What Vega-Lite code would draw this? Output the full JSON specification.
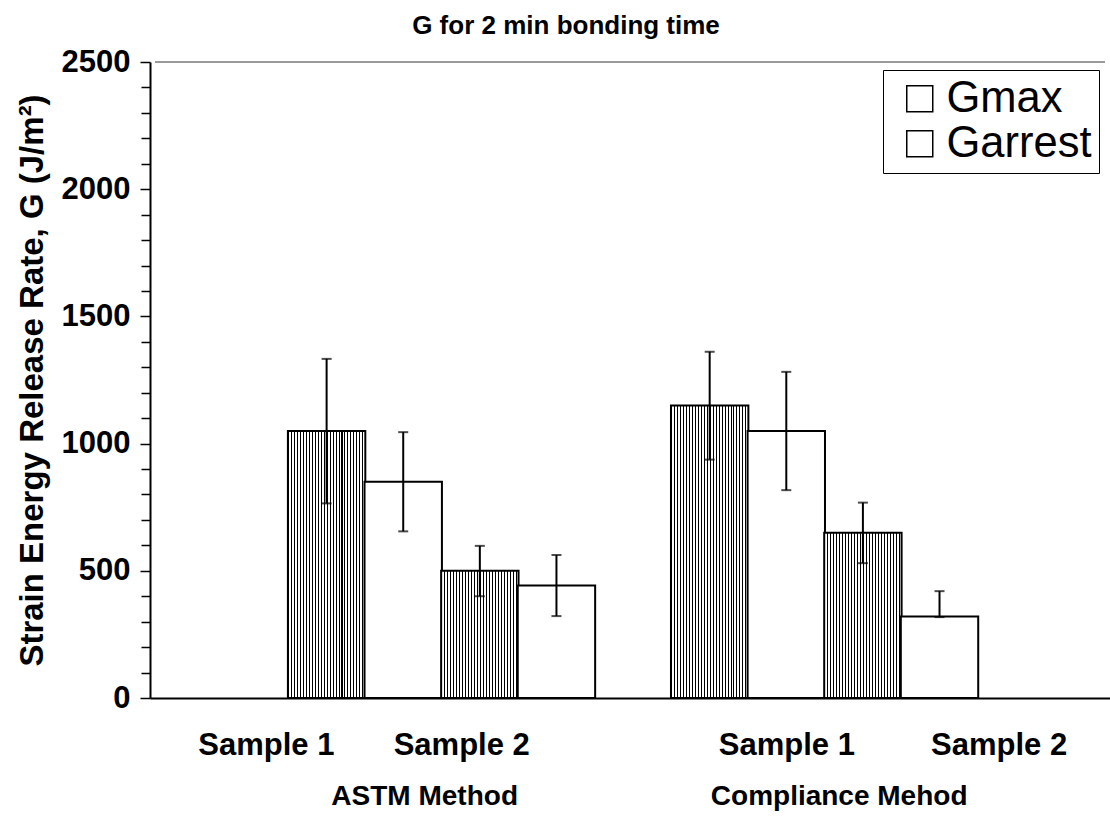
{
  "$schema": "https://vega.github.io/schema/vega-lite/v6.json",
  "width": 960,
  "height": 636,
  "autosize": {"type": "none"},
  "padding": {"left": 150, "top": 62, "right": 0, "bottom": 120},
  "background": "white",
  "title": {
    "text": "G for 2 min bonding time",
    "font": "Liberation Sans",
    "fontSize": 26,
    "fontWeight": "bold",
    "color": "black",
    "anchor": "middle",
    "dx": -64,
    "offset": 7
  },
  "config": {
    "view": {"stroke": null},
    "font": "Liberation Sans",
    "axis": {"grid": false}
  },
  "datasets": {
    "bars": [
      {"group": "ASTM Method", "sample": "Sample 1", "series": "Gmax", "value": 1050, "lo": 765, "hi": 1333, "pos": 0.5},
      {"group": "ASTM Method", "sample": "Sample 1", "series": "Garrest", "value": 850, "lo": 655, "hi": 1045, "pos": 1.5},
      {"group": "ASTM Method", "sample": "Sample 2", "series": "Gmax", "value": 500, "lo": 400, "hi": 598, "pos": 2.5},
      {"group": "ASTM Method", "sample": "Sample 2", "series": "Garrest", "value": 442, "lo": 322, "hi": 562, "pos": 3.5},
      {"group": "Compliance Mehod", "sample": "Sample 1", "series": "Gmax", "value": 1150, "lo": 937, "hi": 1361, "pos": 5.5},
      {"group": "Compliance Mehod", "sample": "Sample 1", "series": "Garrest", "value": 1050, "lo": 817, "hi": 1282, "pos": 6.5},
      {"group": "Compliance Mehod", "sample": "Sample 2", "series": "Gmax", "value": 650, "lo": 530, "hi": 768, "pos": 7.5},
      {"group": "Compliance Mehod", "sample": "Sample 2", "series": "Garrest", "value": 320, "lo": 318, "hi": 420, "pos": 8.5}
    ]
  },
  "resolve": {"axis": {"y": "independent"}},
  "layer": [
    {
      "data": {"name": "bars"},
      "mark": {"type": "bar", "width": 77.4, "stroke": "black", "strokeWidth": 2},
      "encoding": {
        "x": {
          "field": "pos", "type": "quantitative",
          "scale": {"domain": [-1.74, 10.66], "nice": false, "zero": false},
          "axis": {"title": null, "labels": false, "ticks": false, "domain": true, "domainColor": "black", "domainWidth": 2}
        },
        "y": {
          "field": "value", "type": "quantitative",
          "scale": {"domain": [0, 2500], "nice": false},
          "axis": {
            "orient": "left",
            "title": "Strain Energy Release Rate, G (J/m²)",
            "titleFont": "Liberation Sans", "titleFontSize": 33, "titleFontWeight": "bold", "titleColor": "black", "titlePadding": 12,
            "values": [0, 500, 1000, 1500, 2000, 2500],
            "format": "d",
            "labelFont": "Liberation Sans", "labelFontSize": 31, "labelFontWeight": "bold", "labelColor": "black", "labelPadding": 10,
            "tickSize": 10, "tickColor": "black", "tickWidth": 1.5,
            "domainColor": "black", "domainWidth": 2, "labelOverlap": false
          }
        },
        "fill": {
          "field": "series", "type": "nominal",
          "scale": {
            "domain": ["Gmax", "Garrest"],
            "range": [
              {"expr": "{gradient: 'linear', x1: 0, y1: 0, x2: 1, y2: 0, stops: [{offset: 0, color: '#000'}, {offset: 0.013, color: '#000'}, {offset: 0.013, color: '#fff'}, {offset: 0.0385, color: '#fff'}, {offset: 0.0385, color: '#000'}, {offset: 0.0515, color: '#000'}, {offset: 0.0515, color: '#fff'}, {offset: 0.0769, color: '#fff'}, {offset: 0.0769, color: '#000'}, {offset: 0.0899, color: '#000'}, {offset: 0.0899, color: '#fff'}, {offset: 0.1154, color: '#fff'}, {offset: 0.1154, color: '#000'}, {offset: 0.1284, color: '#000'}, {offset: 0.1284, color: '#fff'}, {offset: 0.1538, color: '#fff'}, {offset: 0.1538, color: '#000'}, {offset: 0.1668, color: '#000'}, {offset: 0.1668, color: '#fff'}, {offset: 0.1923, color: '#fff'}, {offset: 0.1923, color: '#000'}, {offset: 0.2053, color: '#000'}, {offset: 0.2053, color: '#fff'}, {offset: 0.2308, color: '#fff'}, {offset: 0.2308, color: '#000'}, {offset: 0.2438, color: '#000'}, {offset: 0.2438, color: '#fff'}, {offset: 0.2692, color: '#fff'}, {offset: 0.2692, color: '#000'}, {offset: 0.2822, color: '#000'}, {offset: 0.2822, color: '#fff'}, {offset: 0.3077, color: '#fff'}, {offset: 0.3077, color: '#000'}, {offset: 0.3207, color: '#000'}, {offset: 0.3207, color: '#fff'}, {offset: 0.3462, color: '#fff'}, {offset: 0.3462, color: '#000'}, {offset: 0.3592, color: '#000'}, {offset: 0.3592, color: '#fff'}, {offset: 0.3846, color: '#fff'}, {offset: 0.3846, color: '#000'}, {offset: 0.3976, color: '#000'}, {offset: 0.3976, color: '#fff'}, {offset: 0.4231, color: '#fff'}, {offset: 0.4231, color: '#000'}, {offset: 0.4361, color: '#000'}, {offset: 0.4361, color: '#fff'}, {offset: 0.4615, color: '#fff'}, {offset: 0.4615, color: '#000'}, {offset: 0.4745, color: '#000'}, {offset: 0.4745, color: '#fff'}, {offset: 0.5, color: '#fff'}, {offset: 0.5, color: '#000'}, {offset: 0.513, color: '#000'}, {offset: 0.513, color: '#fff'}, {offset: 0.5385, color: '#fff'}, {offset: 0.5385, color: '#000'}, {offset: 0.5515, color: '#000'}, {offset: 0.5515, color: '#fff'}, {offset: 0.5769, color: '#fff'}, {offset: 0.5769, color: '#000'}, {offset: 0.5899, color: '#000'}, {offset: 0.5899, color: '#fff'}, {offset: 0.6154, color: '#fff'}, {offset: 0.6154, color: '#000'}, {offset: 0.6284, color: '#000'}, {offset: 0.6284, color: '#fff'}, {offset: 0.6538, color: '#fff'}, {offset: 0.6538, color: '#000'}, {offset: 0.6668, color: '#000'}, {offset: 0.6668, color: '#fff'}, {offset: 0.6923, color: '#fff'}, {offset: 0.6923, color: '#000'}, {offset: 0.7053, color: '#000'}, {offset: 0.7053, color: '#fff'}, {offset: 0.7308, color: '#fff'}, {offset: 0.7308, color: '#000'}, {offset: 0.7438, color: '#000'}, {offset: 0.7438, color: '#fff'}, {offset: 0.7692, color: '#fff'}, {offset: 0.7692, color: '#000'}, {offset: 0.7822, color: '#000'}, {offset: 0.7822, color: '#fff'}, {offset: 0.8077, color: '#fff'}, {offset: 0.8077, color: '#000'}, {offset: 0.8207, color: '#000'}, {offset: 0.8207, color: '#fff'}, {offset: 0.8462, color: '#fff'}, {offset: 0.8462, color: '#000'}, {offset: 0.8592, color: '#000'}, {offset: 0.8592, color: '#fff'}, {offset: 0.8846, color: '#fff'}, {offset: 0.8846, color: '#000'}, {offset: 0.8976, color: '#000'}, {offset: 0.8976, color: '#fff'}, {offset: 0.9231, color: '#fff'}, {offset: 0.9231, color: '#000'}, {offset: 0.9361, color: '#000'}, {offset: 0.9361, color: '#fff'}, {offset: 0.9615, color: '#fff'}, {offset: 0.9615, color: '#000'}, {offset: 0.9745, color: '#000'}, {offset: 0.9745, color: '#fff'}, {offset: 1, color: '#fff'}]}"},
              "white"
            ]
          },
          "legend": {
            "title": null,
            "orient": "none",
            "legendX": 733,
            "legendY": 8,
            "direction": "vertical",
            "strokeColor": "black",
            "fillColor": "white",
            "padding": 7,
            "symbolOffset": 8,
            "symbolType": "square",
            "symbolSize": 676,
            "symbolStrokeColor": "black",
            "symbolStrokeWidth": 1.5,
            "labelFont": "Liberation Sans",
            "labelFontSize": 43.5,
            "labelFontWeight": "normal",
            "labelColor": "black",
            "labelOffset": 5,
            "rowPadding": 0,
            "labelLimit": 400,
            "encode": {
              "symbols": {
                "update": {
                  "fill": {"signal": "datum.value === 'Gmax' ? {gradient: 'linear', x1: 0, y1: 0, x2: 1, y2: 0, stops: [{offset: 0, color: '#000'}, {offset: 0.04, color: '#000'}, {offset: 0.04, color: '#fff'}, {offset: 0.1111, color: '#fff'}, {offset: 0.1111, color: '#000'}, {offset: 0.1511, color: '#000'}, {offset: 0.1511, color: '#fff'}, {offset: 0.2222, color: '#fff'}, {offset: 0.2222, color: '#000'}, {offset: 0.2622, color: '#000'}, {offset: 0.2622, color: '#fff'}, {offset: 0.3333, color: '#fff'}, {offset: 0.3333, color: '#000'}, {offset: 0.3733, color: '#000'}, {offset: 0.3733, color: '#fff'}, {offset: 0.4444, color: '#fff'}, {offset: 0.4444, color: '#000'}, {offset: 0.4844, color: '#000'}, {offset: 0.4844, color: '#fff'}, {offset: 0.5556, color: '#fff'}, {offset: 0.5556, color: '#000'}, {offset: 0.5956, color: '#000'}, {offset: 0.5956, color: '#fff'}, {offset: 0.6667, color: '#fff'}, {offset: 0.6667, color: '#000'}, {offset: 0.7067, color: '#000'}, {offset: 0.7067, color: '#fff'}, {offset: 0.7778, color: '#fff'}, {offset: 0.7778, color: '#000'}, {offset: 0.8178, color: '#000'}, {offset: 0.8178, color: '#fff'}, {offset: 0.8889, color: '#fff'}, {offset: 0.8889, color: '#000'}, {offset: 0.9289, color: '#000'}, {offset: 0.9289, color: '#fff'}, {offset: 1, color: '#fff'}]} : 'white'"},
                  "stroke": {"value": "black"},
                  "strokeWidth": {"value": 1.5},
                  "opacity": {"value": 1}
                }
              }
            }
          }
        }
      }
    },
    {
      "data": {"name": "bars"},
      "mark": {"type": "rule", "color": "black", "strokeWidth": 2},
      "encoding": {
        "x": {"field": "pos", "type": "quantitative"},
        "y": {"field": "lo", "type": "quantitative", "axis": null},
        "y2": {"field": "hi"}
      }
    },
    {
      "data": {"name": "bars"},
      "mark": {"type": "tick", "orient": "horizontal", "color": "black", "size": 10, "thickness": 2},
      "encoding": {
        "x": {"field": "pos", "type": "quantitative"},
        "y": {
          "field": "hi", "type": "quantitative",
          "axis": {
            "orient": "left", "title": null, "labels": false, "domain": false,
            "values": [100,200,300,400,600,700,800,900,1100,1200,1300,1400,1600,1700,1800,1900,2100,2200,2300,2400],
            "tickSize": 9, "tickColor": "black", "tickWidth": 1.5
          }
        }
      }
    },
    {
      "data": {"name": "bars"},
      "mark": {"type": "tick", "orient": "horizontal", "color": "black", "size": 10, "thickness": 2},
      "encoding": {
        "x": {"field": "pos", "type": "quantitative"},
        "y": {"field": "lo", "type": "quantitative", "axis": null}
      }
    },
    {
      "data": {"values": [{"edge": "top"}]},
      "mark": {"type": "rule", "color": "#9a9a9a", "strokeWidth": 2},
      "encoding": {
        "x": {"datum": -1.74, "type": "quantitative"},
        "x2": {"datum": 10.66},
        "y": {"datum": 2500, "type": "quantitative", "axis": null}
      }
    },
    {
      "data": {
        "values": [
          {"label": "Sample 1", "pos": -0.287},
          {"label": "Sample 2", "pos": 2.264},
          {"label": "Sample 1", "pos": 6.507},
          {"label": "Sample 2", "pos": 9.278}
        ]
      },
      "mark": {"type": "text", "font": "Liberation Sans", "fontSize": 31, "fontWeight": "bold", "color": "black", "align": "center", "baseline": "alphabetic", "dy": 57},
      "encoding": {
        "x": {"field": "pos", "type": "quantitative"},
        "y": {"datum": 0, "type": "quantitative", "axis": null},
        "text": {"field": "label"}
      }
    },
    {
      "data": {
        "values": [
          {"label": "ASTM Method", "pos": 1.78},
          {"label": "Compliance Mehod", "pos": 7.19}
        ]
      },
      "mark": {"type": "text", "font": "Liberation Sans", "fontSize": 28, "fontWeight": "bold", "color": "black", "align": "center", "baseline": "alphabetic", "dy": 107},
      "encoding": {
        "x": {"field": "pos", "type": "quantitative"},
        "y": {"datum": 0, "type": "quantitative", "axis": null},
        "text": {"field": "label"}
      }
    }
  ]
}
